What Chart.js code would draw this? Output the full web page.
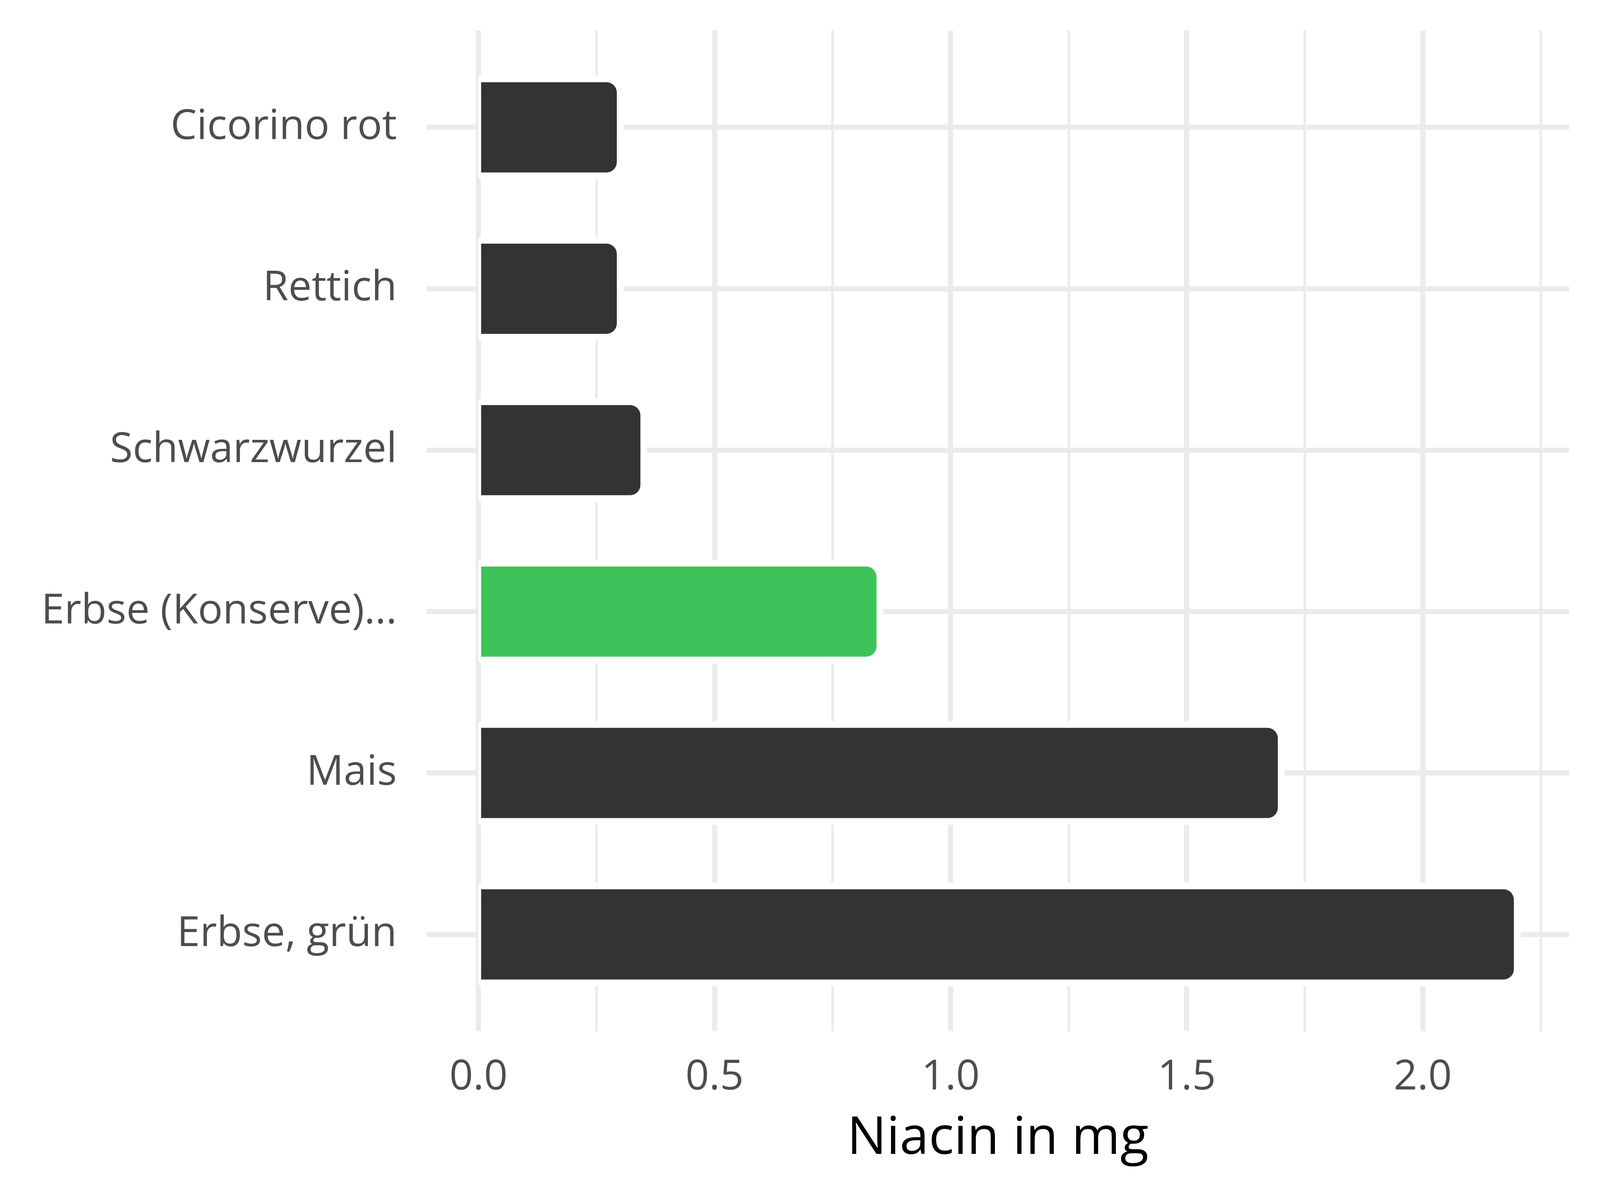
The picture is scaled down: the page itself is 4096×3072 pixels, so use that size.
<!DOCTYPE html>
<html>
<head>
<meta charset="utf-8">
<script src="https://cdn.jsdelivr.net/npm/chart.js@4"></script>
<style>
  html, body { margin: 0; padding: 0; background: #ffffff; }
  canvas { display: block; }
</style>
</head>
<body>
<canvas id="c" width="4096" height="3072"></canvas>
<script>
// ---- data ----
const categories = ["Cicorino rot", "Rettich", "Schwarzwurzel", "Erbse (Konserve)...", "Mais", "Erbse, grün"];
const values = [0.3, 0.3, 0.35, 0.85, 1.7, 2.2];
const highlighted = [false, false, false, true, false, false];
const xTickValues = [0, 0.25, 0.5, 0.75, 1, 1.25, 1.5, 1.75, 2, 2.25];
const xTickLabels = ["0.0", "", "0.5", "", "1.0", "", "1.5", "", "2.0", ""];
const axisTitle = "Niacin in mg";

// ---- style ----
const BAR_DARK = "#333333";
const BAR_HIGHLIGHT = "#3EC35A";
const GRID = "#EBEBEB";
const HALO = 8.5;

const haloPlugin = {
  id: "halo",
  beforeDatasetsDraw(chart) {
    const ctx = chart.ctx;
    const meta = chart.getDatasetMeta(0);
    ctx.save();
    ctx.fillStyle = "#FFFFFF";
    meta.data.forEach(el => {
      const p = el.getProps(["x", "y", "base", "height"], true);
      const left = Math.min(p.base, p.x) - 7;
      const right = Math.max(p.base, p.x) + HALO;
      const top = p.y - p.height / 2 - HALO;
      const bottom = p.y + p.height / 2 + HALO;
      ctx.beginPath();
      ctx.roundRect(left, top, right - left, bottom - top, [8, 35 + HALO, 35 + HALO, 8]);
      ctx.fill();
    });
    ctx.restore();
  }
};

function noEdgePadding(s) {
  s.paddingTop = 0; s.paddingBottom = 0; s.paddingLeft = 0; s.paddingRight = 0;
}

Chart.defaults.font.family = "'Open Sans', 'Noto Sans', sans-serif";

new Chart(document.getElementById("c"), {
  type: "bar",
  data: {
    datasets: [{
      data: values.map((v, i) => ({ x: v, y: i + 1 })),
      backgroundColor: highlighted.map(h => h ? BAR_HIGHLIGHT : BAR_DARK),
      borderColor: "#FFFFFF",
      borderWidth: { top: HALO, right: HALO, bottom: HALO, left: 0 },
      borderSkipped: "start",
      borderRadius: 35,
      barPercentage: 0.6,
      categoryPercentage: 1,
      inflateAmount: 0
    }]
  },
  options: {
    indexAxis: "y",
    responsive: false,
    animation: false,
    devicePixelRatio: 1,
    layout: { padding: { left: 0, right: 79, top: 78, bottom: 76 } },
    plugins: { legend: { display: false }, tooltip: { enabled: false } },
    scales: {
      x: {
        type: "linear",
        min: -0.11,
        max: 2.31,
        offset: false,
        afterBuildTicks: s => { s.ticks = xTickValues.map(v => ({ value: v })); },
        afterFit: s => { s.height = 356; noEdgePadding(s); },
        border: { display: false },
        grid: {
          color: GRID,
          offset: false,
          drawTicks: false,
          lineWidth: c => {
            const v = c.tick ? c.tick.value : 0;
            return Math.abs(v * 2 - Math.round(v * 2)) < 1e-9 ? 13 : 6.5;
          }
        },
        ticks: {
          autoSkip: false,
          maxRotation: 0,
          padding: 55,
          color: "#4D4D4D",
          font: { size: 106 },
          callback: (v, i) => xTickLabels[i]
        },
        title: {
          display: true,
          text: axisTitle,
          color: "#000000",
          font: { size: 134 },
          padding: 0
        }
      },
      y: {
        type: "linear",
        reverse: true,
        min: 0.4,
        max: 6.6,
        offset: false,
        afterBuildTicks: s => { s.ticks = categories.map((c, i) => ({ value: i + 1 })); },
        afterFit: s => { s.width = 1092; noEdgePadding(s); },
        border: { display: false },
        grid: { color: GRID, offset: false, drawTicks: false, lineWidth: 13 },
        ticks: {
          autoSkip: false,
          padding: 76,
          color: "#4D4D4D",
          font: { size: 106 },
          callback: (v, i) => categories[i]
        }
      }
    }
  },
  plugins: [haloPlugin]
});
</script>
</body>
</html>
